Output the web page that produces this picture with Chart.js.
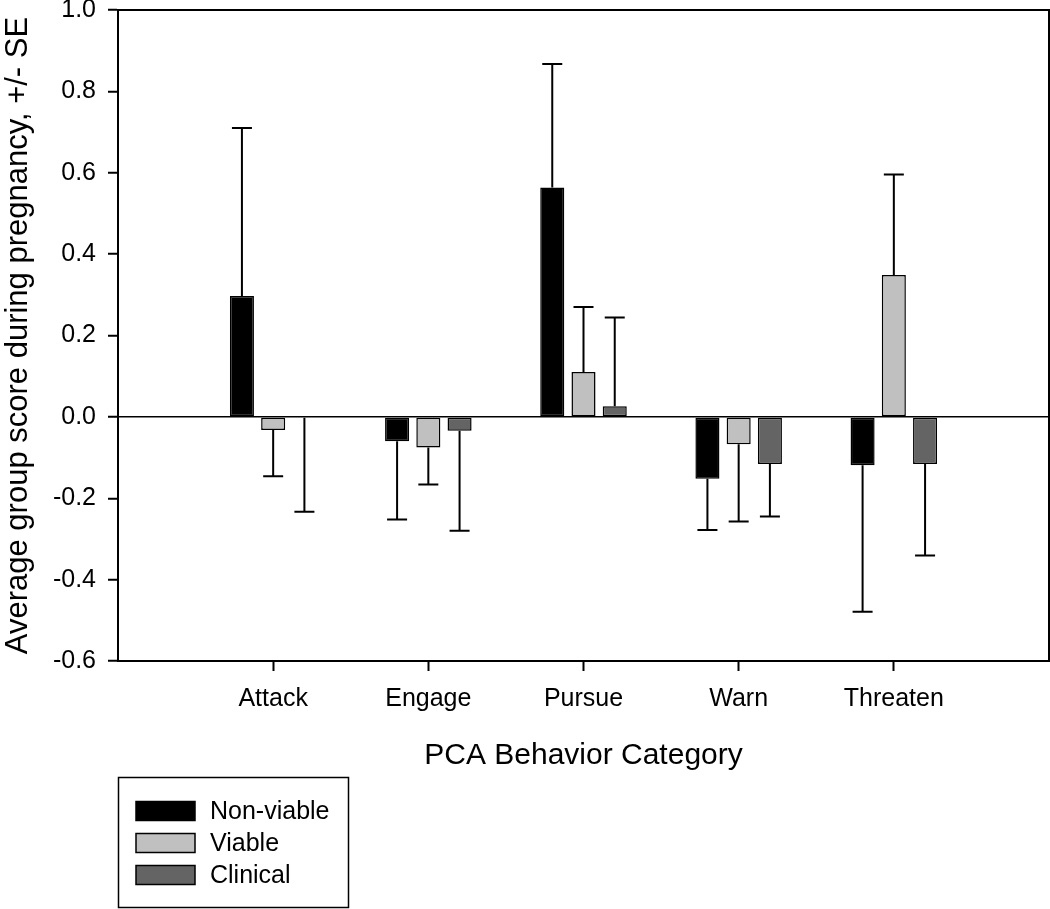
<!DOCTYPE html>
<html>
<head>
<meta charset="utf-8">
<script src="https://cdn.jsdelivr.net/npm/chart.js@4.4.0/dist/chart.umd.min.js"></script>
<style>
  body { margin: 0; background: #fff; }
  #wrap { width: 1050px; height: 909px; }
</style>
</head>
<body>
<div id="wrap"><canvas id="myChart"></canvas></div>
<script>
// values
var categories = ["Attack", "Engage", "Pursue", "Warn", "Threaten"];

var nonViable   = [0.297, -0.060, 0.564, -0.152, -0.119];
var nonViableSE = [0.413, 0.192, 0.303, 0.126, 0.360];

var viable   = [-0.032, -0.075, 0.110, -0.067, 0.349];
var viableSE = [0.114, 0.091, 0.160, 0.190, 0.247];

var clinical   = [-0.002, -0.034, 0.026, -0.116, -0.116];
var clinicalSE = [0.231, 0.246, 0.218, 0.129, 0.225];

var yTicks = { min: -0.6, max: 1.0, step: 0.2 };

var FONT = 'Arial, "Liberation Sans", sans-serif';

// empty slots at both ends so the categories sit at 1..5 of a 0..6 axis
function pad(arr) { return [null].concat(arr, [null]); }
var labels = pad(categories).map(function (c) { return c === null ? "" : c; });

// error bars (one-sided, away from zero) and top/right frame
var errorBars = {
  id: "errorBars",
  afterDatasetsDraw: function (chart) {
    var ctx = chart.ctx, y = chart.scales.y;
    ctx.save();
    ctx.strokeStyle = "#000";
    ctx.lineWidth = 2;
    chart.data.datasets.forEach(function (ds, d) {
      var meta = chart.getDatasetMeta(d);
      ds.data.forEach(function (v, i) {
        if (v === null) return;
        var se = ds.se[i];
        var end = v >= 0 ? v + se : v - se;
        var bar = meta.data[i];
        var yEnd = y.getPixelForValue(end);
        ctx.beginPath();
        ctx.moveTo(bar.x, bar.y);
        ctx.lineTo(bar.x, yEnd);
        ctx.moveTo(bar.x - 10, yEnd);
        ctx.lineTo(bar.x + 10, yEnd);
        ctx.stroke();
      });
    });
    var a = chart.chartArea;
    ctx.beginPath();
    ctx.moveTo(a.left, a.top);
    ctx.lineTo(a.right, a.top);
    ctx.lineTo(a.right, a.bottom);
    ctx.stroke();
    ctx.restore();
  }
};

// boxed legend under the x axis title
var boxLegend = {
  id: "boxLegend",
  afterDraw: function (chart) {
    var ctx = chart.ctx;
    var left = chart.chartArea.left;
    var top = 777;
    ctx.save();
    ctx.strokeStyle = "#000";
    ctx.lineWidth = 1.5;
    ctx.strokeRect(left + 0.5, top + 0.5, 230, 130);
    ctx.font = "25px " + FONT;
    ctx.textBaseline = "middle";
    chart.data.datasets.forEach(function (ds, i) {
      var cy = top + 34 + i * 32;
      ctx.fillStyle = ds.backgroundColor;
      ctx.fillRect(left + 18, cy - 9.5, 59, 19);
      ctx.lineWidth = 1.5;
      ctx.strokeRect(left + 18, cy - 9.5, 59, 19);
      ctx.fillStyle = "#000";
      ctx.fillText(ds.label, left + 92, cy + 1);
    });
    ctx.restore();
  }
};

var barStyle = { borderColor: "#000", borderWidth: 1.5, borderSkipped: false,
                 categoryPercentage: 0.604, barPercentage: 0.77 };

var canvas = document.getElementById("myChart");
var myChart = new Chart(canvas, {
  type: "bar",
  data: {
    labels: labels,
    datasets: [
      Object.assign({ label: "Non-viable", data: pad(nonViable), se: pad(nonViableSE),
                      backgroundColor: "#000000" }, barStyle),
      Object.assign({ label: "Viable", data: pad(viable), se: pad(viableSE),
                      backgroundColor: "#c0c0c0" }, barStyle),
      Object.assign({ label: "Clinical", data: pad(clinical), se: pad(clinicalSE),
                      backgroundColor: "#646464" }, barStyle)
    ]
  },
  options: {
    responsive: true,
    maintainAspectRatio: false,
    animation: false,
    layout: { padding: { left: 0, right: 1, top: 10, bottom: 135 } },
    plugins: { legend: { display: false }, tooltip: { enabled: false } },
    scales: {
      x: {
        offset: false,
        grid: {
          offset: false,
          drawOnChartArea: false,
          tickLength: 10,
          tickWidth: 2,
          tickColor: function (c) { return (c.index === 0 || c.index === labels.length - 1) ? "rgba(0,0,0,0)" : "#000"; }
        },
        border: { display: true, color: "#000", width: 2 },
        ticks: { color: "#000", font: { family: FONT, size: 25 }, padding: 13, maxRotation: 0, autoSkip: false },
        title: { display: true, text: "PCA Behavior Category", color: "#000",
                 font: { family: FONT, size: 30 }, padding: 0 },
        afterFit: function (s) { s.height = 113; s.paddingLeft = 0; s.paddingRight = 0; }
      },
      y: {
        min: yTicks.min,
        max: yTicks.max,
        grid: {
          color: function (c) { return c.tick && Math.abs(c.tick.value) < 1e-9 ? "#000" : "rgba(0,0,0,0)"; },
          lineWidth: 1.5,
          tickColor: "#000",
          tickWidth: 2,
          tickLength: 10
        },
        border: { display: true, color: "#000", width: 2 },
        ticks: {
          stepSize: yTicks.step,
          color: "#000",
          padding: 12,
          font: { family: FONT, size: 25 },
          callback: function (v) { return Number(v).toFixed(1); }
        },
        title: { display: true, text: "Average group score during pregnancy, +/- SE", color: "#000",
                 font: { family: FONT, size: 31 }, padding: 0 },
        afterFit: function (s) { s.width = 118; s.paddingTop = 0; s.paddingBottom = 0; }
      }
    }
  },
  plugins: [errorBars, boxLegend]
});
</script>
</body>
</html>
